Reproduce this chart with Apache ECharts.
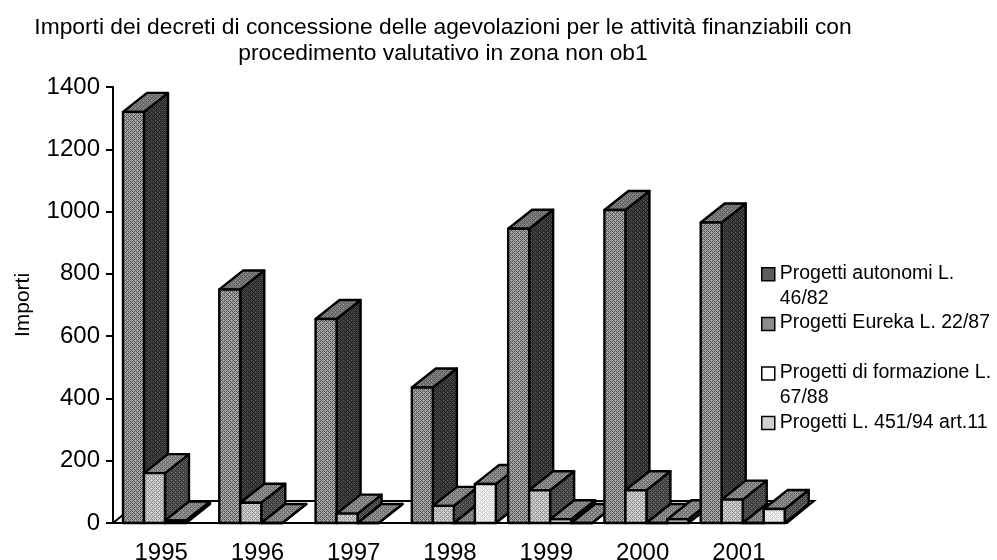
<!DOCTYPE html>
<html>
<head>
<meta charset="utf-8">
<script src="https://cdn.jsdelivr.net/npm/echarts@6/dist/echarts.min.js"></script>
<style>html,body{margin:0;padding:0;background:#fff}#c{width:997px;height:560px}</style>
</head>
<body>
<div id="c"></div>
<script>
var categories = ['1995','1996','1997','1998','1999','2000','2001'];
var autonomi   = [1320, 750, 655, 435, 945, 1005, 965];
var eureka     = [160, 65, 30, 55, 105, 105, 75];
var formazione = [8, 0, 0, 0, 12, 0, 0];
var legge451   = [null, null, null, 125, 0, 12, 45];
var seriesNames = ['Progetti autonomi L. 46/82','Progetti Eureka L. 22/87','Progetti di formazione L. 67/88','Progetti L. 451/94 art.11'];
var legendLines = ['Progetti autonomi L.\n46/82','Progetti Eureka L. 22/87\n ','Progetti di formazione L.\n67/88','Progetti L. 451/94 art.11\n '];
var yTicks = {min:0, max:1400, interval:200};

function dither(a, b) {
  var c = document.createElement('canvas'); c.width = 4; c.height = 4;
  var g = c.getContext('2d');
  var map = [[1,0,1,1],[0,1,0,1],[1,1,1,0],[0,1,0,1]];
  for (var y=0;y<4;y++) for (var x=0;x<4;x++) { g.fillStyle = map[y][x]?a:b; g.fillRect(x,y,1,1); }
  return {image:c, repeat:'repeat'};
}
var styles = [
  {front:dither('#a2a2a2','#585858'), side:dither('#454545','#1e1e1e'), top:dither('#858585','#555555'), legend:'#5e5e5e'},
  {front:dither('#cfcfcf','#909090'), side:dither('#5c5c5c','#2c2c2c'), top:dither('#959595','#606060'), legend:'#8c8c8c'},
  {front:'#ffffff',                   side:dither('#5c5c5c','#2c2c2c'), top:dither('#959595','#606060'), legend:'#ffffff'},
  {front:dither('#f2f2f2','#cccccc'), side:dither('#666666','#303030'), top:dither('#959595','#606060'), legend:'#d0d0d0'}
];
var DX = 24, DY = -19, BAR = 21, START = 10;

function barRenderer(s) {
  return function (params, api) {
    var v = api.value(1);
    if (isNaN(v)) return null;
    var i = api.value(0);
    var band = api.size([1,0])[0];
    var cx = api.coord([i,0])[0];
    var y0 = api.coord([i,0])[1];
    var y1 = api.coord([i,v])[1];
    var x0 = cx - band/2 + START + s*BAR;
    var x1 = x0 + BAR;
    var z = i*10 + s + 5;
    var line = {stroke:'#000', lineWidth:2.4, lineJoin:'round'};
    function poly(pts, fill) {
      return {type:'polygon', z2:z, shape:{points:pts}, style:Object.assign({fill:fill}, line)};
    }
    return {type:'group', children:[
      poly([[x1,y0],[x1+DX,y0+DY],[x1+DX,y1+DY],[x1,y1]], styles[s].side),
      poly([[x0,y1],[x1,y1],[x1+DX,y1+DY],[x0+DX,y1+DY]], styles[s].top),
      poly([[x0,y0],[x1,y0],[x1,y1],[x0,y1]], styles[s].front)
    ]};
  };
}
function floorRenderer(params, api) {
  var band = api.size([1,0])[0];
  var left = api.coord([0,0])[0] - band/2;
  var right = left + band*categories.length;
  var y0 = api.coord([0,0])[1];
  var fx = 27, fy = -22;
  return {type:'polyline', z2:1, shape:{points:[[left,y0],[left+fx,y0+fy],[right+fx,y0+fy],[right,y0]]},
    style:{fill:null, stroke:'#000', lineWidth:2}};
}
function rows(values){ return values.map(function(v,i){ return [i, v===null?NaN:v]; }); }
var allValues = [autonomi, eureka, formazione, legge451];

var series = [{type:'custom', silent:true, clip:false, renderItem:floorRenderer, data:[[0,0]], z:2}];
allValues.forEach(function(vals,s){
  series.push({name:seriesNames[s], type:'custom', clip:false, z:2, renderItem:barRenderer(s),
    itemStyle:{color:styles[s].legend}, encode:{x:0,y:1}, data:rows(vals)});
});

var chart = echarts.init(document.getElementById('c'), null, {renderer:'canvas'});
chart.setOption({
  animation:false,
  backgroundColor:'#fff',
  title:{
    text:'Importi dei decreti di concessione delle agevolazioni per le attività finanziabili con\nprocedimento valutativo in zona non ob1',
    left:438, top:10, textAlign:'center',
    textStyle:{fontFamily:'Liberation Sans', fontSize:22.8, fontWeight:'normal', color:'#000', lineHeight:26}
  },
  grid:{left:113, right:210, top:87, bottom:37, outerBoundsMode:'none'},
  legend:{
    orient:'vertical', left:756, top:256, itemGap:0, selectedMode:false,
    itemWidth:13, itemHeight:36, itemStyle:{borderColor:'#000', borderWidth:1.5},
    icon:'path://M0 0H13V13H0ZM0 36',
    data:seriesNames,
    formatter:function(n){ return legendLines[seriesNames.indexOf(n)]; },
    textStyle:{fontFamily:'Liberation Sans', fontSize:19.5, color:'#000', lineHeight:24.8}
  },
  xAxis:{
    type:'category', data:categories, boundaryGap:true,
    axisLine:{lineStyle:{color:'#000',width:2}},
    axisTick:{alignWithLabel:false, length:8, lineStyle:{color:'#000',width:2}},
    axisLabel:{color:'#000', fontFamily:'Liberation Sans', fontSize:24, margin:18},
    splitLine:{show:false}
  },
  yAxis:{
    type:'value', min:yTicks.min, max:yTicks.max, interval:yTicks.interval,
    name:'Importi', nameLocation:'middle', nameGap:79, nameRotate:90,
    nameTextStyle:{color:'#000', fontFamily:'Liberation Sans', fontSize:21},
    axisLine:{show:true, lineStyle:{color:'#000',width:2}},
    axisTick:{show:true, length:7, lineStyle:{color:'#000',width:2}},
    axisLabel:{color:'#000', fontFamily:'Liberation Sans', fontSize:24, margin:13, formatter:function(v){return String(v);}},
    splitLine:{show:false}
  },
  series:series
});
</script>
</body>
</html>
